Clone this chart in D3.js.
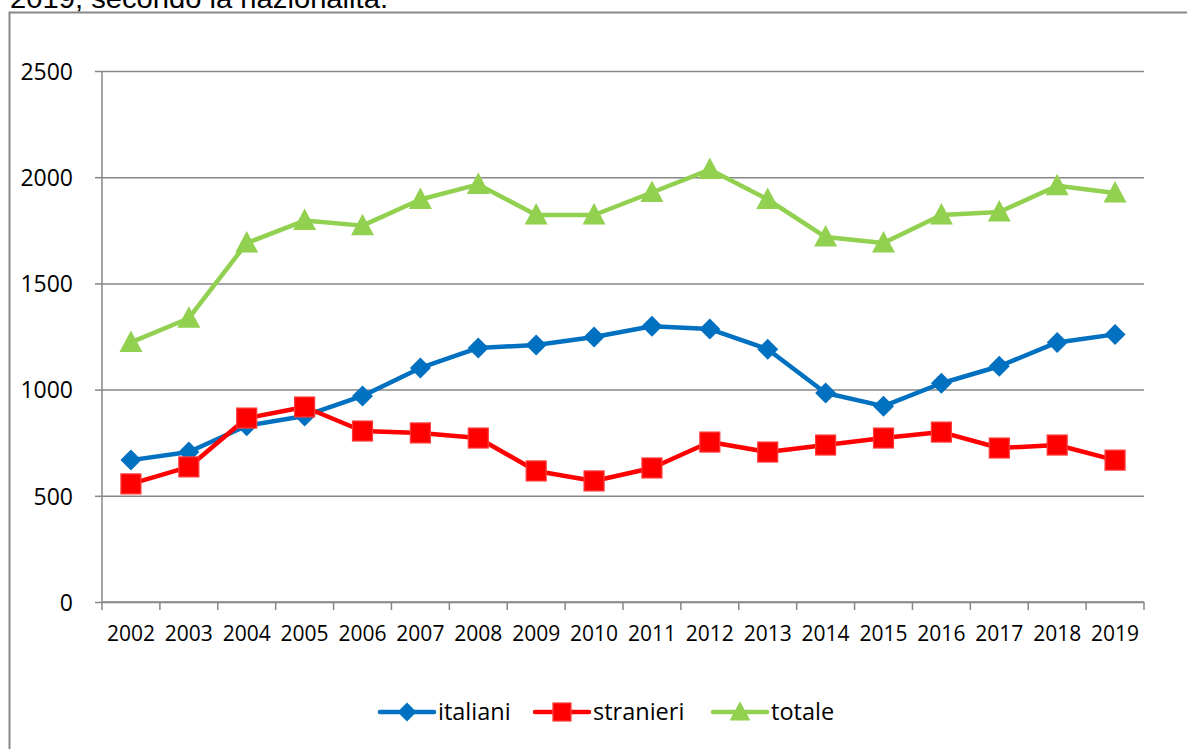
<!DOCTYPE html>
<html>
<head>
<meta charset="utf-8">
<script src="https://cdn.jsdelivr.net/npm/d3@7"></script>
<style>
  body { margin: 0; background: #fff; }
  svg { display: block; }
</style>
</head>
<body>
<script>
// data
const years = ['2002', '2003', '2004', '2005', '2006', '2007', '2008', '2009', '2010',
    '2011', '2012', '2013', '2014', '2015', '2016', '2017', '2018', '2019'];
const italiani = [668, 706, 830, 876, 970, 1102, 1196, 1210, 1248, 1298, 1285, 1190, 984, 922, 1030, 1110, 1222, 1260];
const stranieri = [556, 636, 866, 918, 805, 796, 772, 617, 570, 631, 753, 706, 739, 772, 800, 725, 739, 668];
const totale = [1222, 1336, 1690, 1796, 1772, 1895, 1966, 1822, 1822, 1928, 2036, 1895, 1718, 1690, 1822, 1836, 1960, 1926];
const yTicks = [0, 500, 1000, 1500, 2000, 2500];
const titleText = '2019, secondo la nazionalità.';

const series = [
    { name: 'italiani', values: italiani, color: '#0070C0', marker: 'diamond' },
    { name: 'stranieri', values: stranieri, color: '#FF0000', marker: 'square' },
    { name: 'totale', values: totale, color: '#92D050', marker: 'triangle' }
];

const W = 1187, H = 749;
const plot = { left: 102, right: 1144, top: 71, bottom: 602 };
const grey = '#878787';

const svg = d3.select('body').append('svg')
    .attr('width', W)
    .attr('height', H);

// caption (cut off at the top, as in the source) and frame
svg.append('text')
    .attr('x', 10)
    .attr('y', 8)
    .attr('textLength', 378)
    .attr('lengthAdjust', 'spacingAndGlyphs')
    .style('font', '27px "Liberation Sans", Arial, sans-serif')
    .style('fill', '#000')
    .text(titleText);

svg.append('path')
    .attr('d', `M9.5,${H} V12.5 H${W}`)
    .attr('fill', 'none')
    .attr('stroke', grey)
    .attr('stroke-width', 2);

const x = d3.scaleBand()
    .domain(years)
    .range([plot.left, plot.right]);

const y = d3.scaleLinear()
    .domain([0, 2500])
    .range([plot.bottom, plot.top]);

// gridlines + y axis
const yAxis = svg.append('g')
    .attr('transform', `translate(${plot.left},0)`)
    .call(d3.axisLeft(y).tickValues(yTicks).tickFormat(d3.format('d')).tickSize(7).tickPadding(22));

yAxis.select('.domain').remove();
yAxis.selectAll('.tick line')
    .attr('x2', -7)
    .attr('stroke', grey)
    .attr('stroke-width', 1.5);
yAxis.selectAll('.tick')
    .append('line')
    .attr('x1', 0)
    .attr('x2', plot.right - plot.left)
    .attr('stroke', grey)
    .attr('stroke-width', 1.5);
yAxis.selectAll('.tick text')
    .attr('dy', '0.36em')
    .style('font', '23px "Open Sans", sans-serif')
    .style('fill', '#000');

svg.append('line')
    .attr('x1', plot.left).attr('x2', plot.left)
    .attr('y1', plot.top).attr('y2', plot.bottom)
    .attr('stroke', grey)
    .attr('stroke-width', 1.5);

// x axis, ticks on category boundaries
const xAxis = svg.append('g')
    .attr('transform', `translate(0,${plot.bottom})`);

xAxis.append('line')
    .attr('x1', plot.left).attr('x2', plot.right)
    .attr('stroke', grey)
    .attr('stroke-width', 1.5);

const bounds = years.map(d => x(d)).concat([x(years[years.length - 1]) + x.bandwidth()]);
xAxis.selectAll('.xtick')
    .data(bounds)
    .enter()
    .append('line')
    .attr('x1', d => d).attr('x2', d => d)
    .attr('y1', 0).attr('y2', 8)
    .attr('stroke', grey)
    .attr('stroke-width', 1.5);

xAxis.selectAll('.xlabel')
    .data(years)
    .enter()
    .append('text')
    .attr('x', d => x(d) + x.bandwidth() / 2)
    .attr('y', 39)
    .attr('text-anchor', 'middle')
    .style('font', '21px "Open Sans", sans-serif')
    .style('fill', '#000')
    .text(d => d);

// markers
function marker(sel, type, color, s) {
    if (type === 'diamond') {
        sel.append('path')
            .attr('d', `M0,${-s * 1.05} L${s * 1.05},0 L0,${s * 1.05} L${-s * 1.05},0 Z`)
            .attr('fill', color);
    } else if (type === 'square') {
        const h = s;
        sel.append('rect')
            .attr('x', -h).attr('y', -h)
            .attr('width', 2 * h).attr('height', 2 * h)
            .attr('fill', color)
            .attr('stroke', '#FF3B3B')
            .attr('stroke-width', 1.2);
    } else {
        sel.append('path')
            .attr('d', `M0,${-s * 1.2} L${s * 1.15},${s * 0.95} L${-s * 1.15},${s * 0.95} Z`)
            .attr('fill', color);
    }
}

const line = d3.line()
    .x((d, i) => x(years[i]) + x.bandwidth() / 2)
    .y(d => y(d));

series.forEach(s => {
    const g = svg.append('g');
    g.append('path')
        .datum(s.values)
        .attr('fill', 'none')
        .attr('stroke', s.color)
        .attr('stroke-width', 4.5)
        .attr('stroke-linejoin', 'round')
        .attr('d', line);

    g.selectAll('.pt')
        .data(s.values)
        .enter()
        .append('g')
        .attr('transform', (d, i) => `translate(${x(years[i]) + x.bandwidth() / 2},${y(d)})`)
        .each(function () { marker(d3.select(this), s.marker, s.color, 10); });
});

// legend
const legendX = [380, 535, 713];
const legend = svg.append('g')
    .attr('transform', 'translate(0,712)');

series.forEach((s, i) => {
    const g = legend.append('g')
        .attr('transform', `translate(${legendX[i]},0)`);
    g.append('line')
        .attr('x1', 0).attr('x2', 54)
        .attr('stroke', s.color)
        .attr('stroke-width', 4.5)
        .attr('stroke-linecap', 'round');
    const m = g.append('g').attr('transform', 'translate(27,0)');
    marker(m, s.marker, s.color, 9);
    g.append('text')
        .attr('x', 58)
        .attr('dy', '0.36em')
        .style('font', '23.5px "Open Sans", sans-serif')
        .style('fill', '#000')
        .text(s.name);
});
</script>
</body>
</html>
